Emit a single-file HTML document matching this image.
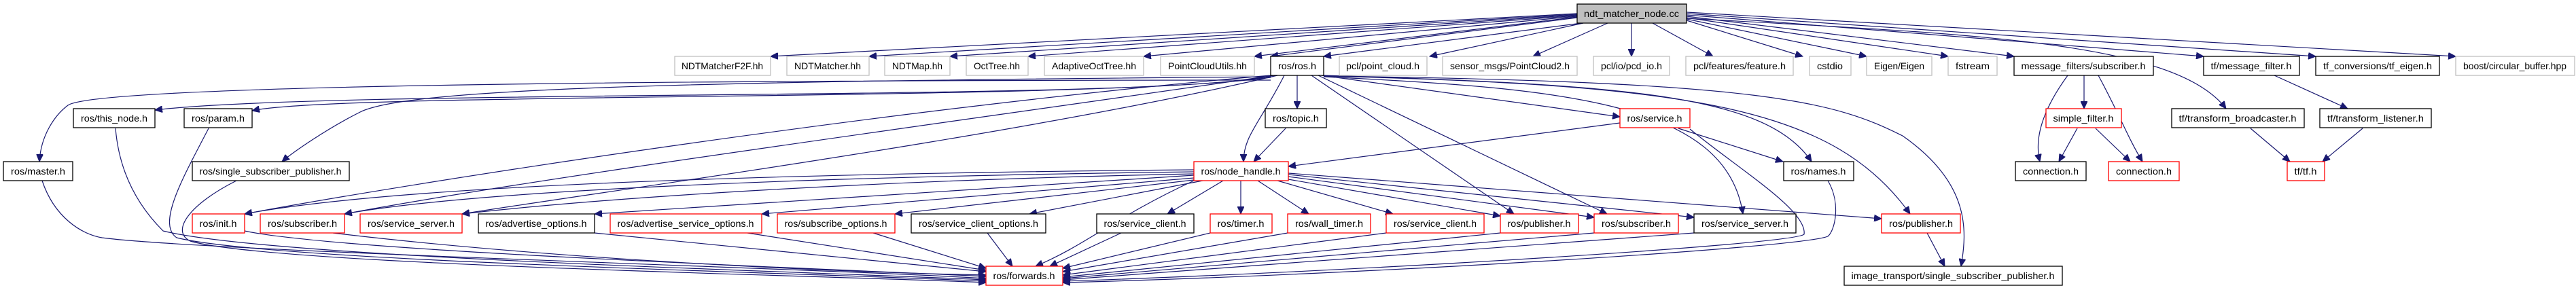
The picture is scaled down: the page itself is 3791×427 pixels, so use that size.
<!DOCTYPE html>
<html><head><meta charset="utf-8"><style>
html,body{margin:0;padding:0;background:#fff;width:3791px;height:427px;overflow:hidden}
text{font-family:"Liberation Sans",sans-serif;font-size:14px;fill:#000}
</style></head><body>
<svg xmlns="http://www.w3.org/2000/svg" width="3791" height="427" viewBox="0 0 3791 427">
<defs>
<marker id="a" markerUnits="userSpaceOnUse" markerWidth="12" markerHeight="10" refX="11" refY="5" orient="auto">
<path d="M0,0 L11,5 L0,10 z" fill="#191970" stroke="#191970"/>
</marker>
</defs>
<g fill="none" stroke="#191970" stroke-width="1.2" marker-end="url(#a)">
<!-- top node to row1 -->
<path d="M2321,20 L1134,83"/>
<path d="M2321,21 L1279,83"/>
<path d="M2321,22 L1398,83"/>
<path d="M2321,23 L1513,83"/>
<path d="M2321,24 L1683,83"/>
<path d="M2321,25 L1846,83"/>
<path d="M2321,26 L1870,83"/>
<path d="M2328,34 L1948,83"/>
<path d="M2330,34 L2104,83"/>
<path d="M2366,34 L2256,83"/>
<path d="M2401,34 L2401,83"/>
<path d="M2432,34 L2521,83"/>
<path d="M2482,30 L2653,83"/>
<path d="M2482,28 L2747,83"/>
<path d="M2482,26 L2867,83"/>
<path d="M2482,24 L2964,83"/>
<path d="M2482,22 L3243,83"/>
<path d="M2482,20 L3408,83"/>
<path d="M2482,18 L3614,83"/>
<path d="M2482,27 C2900,50 3200,60 3276,160"/>
<!-- ros.h -->
<path d="M1870,118 C1300,118 150,120 100,155 C80,170 60,200 58,238"/>
<path d="M1870,112 C1700,150 500,130 228,162"/>
<path d="M1870,114 C1600,150 500,135 371,163"/>
<path d="M1870,113 C1000,120 600,130 530,165 C480,190 430,225 415,238"/>
<path d="M1870,111 C1300,160 600,270 360,315"/>
<path d="M1875,111 C1400,180 800,260 507,315"/>
<path d="M1880,111 C1500,200 900,280 680,315"/>
<path d="M1909,111 L1909,160"/>
<path d="M1890,111 C1855,180 1830,200 1830,238"/>
<path d="M1945,111 L2384,172"/>
<path d="M1930,111 L2228,315"/>
<path d="M1940,111 L2365,315"/>
<path d="M1948,113 C2300,130 2540,150 2565,315"/>
<path d="M1948,111 C2400,125 2600,140 2666,238"/>
<path d="M1948,112 C2500,125 2700,160 2811,315"/>
<path d="M1948,112 C2600,120 2700,150 2800,200 C2900,270 2895,340 2886,392"/>
<!-- node_handle -->
<path d="M1757,250 C1200,255 600,270 360,315"/>
<path d="M1757,253 C1200,260 700,280 507,315"/>
<path d="M1757,256 C1300,265 900,290 680,315"/>
<path d="M1757,258 L875,315"/>
<path d="M1757,262 L1121,315"/>
<path d="M1757,265 L1317,315"/>
<path d="M1770,266 L1515,315"/>
<path d="M1800,266 L1718,315"/>
<path d="M1826,266 L1826,315"/>
<path d="M1851,266 L1926,315"/>
<path d="M1880,266 L2050,315"/>
<path d="M1896,264 L2208,318"/>
<path d="M1896,260 L2346,320"/>
<path d="M1896,257 L2493,320"/>
<path d="M1896,255 L2769,322"/>
<path d="M1757,266 C1640,320 1600,360 1524,392"/>
<!-- to forwards -->
<path d="M62,266 C80,320 120,345 150,350 C300,370 1200,395 1451,410"/>
<path d="M170,189 C175,250 200,300 240,340 C400,380 1200,400 1451,412"/>
<path d="M307,189 C270,260 230,330 260,350 C400,385 1200,402 1451,414"/>
<path d="M348,266 C280,300 250,340 280,355 C400,390 1200,405 1451,416"/>
<path d="M360,340 C500,370 1200,395 1451,407"/>
<path d="M490,343 C800,380 1200,400 1451,405"/>
<path d="M875,343 L1451,400"/>
<path d="M1100,343 L1451,398"/>
<path d="M1285,343 L1451,395"/>
<path d="M1453,343 L1490,392"/>
<path d="M1650,343 L1545,392"/>
<path d="M1781,343 L1564,395"/>
<path d="M1895,343 L1564,400"/>
<path d="M2040,343 L1564,405"/>
<path d="M2208,343 L1564,408"/>
<path d="M2346,343 L1564,410"/>
<path d="M2493,343 L1564,412"/>
<path d="M2487,190 C2560,250 2660,310 2655,345 C2640,360 2000,400 1564,414"/>
<path d="M2690,266 C2710,300 2700,340 2690,348 C2650,365 2000,405 1564,416"/>
<!-- misc -->
<path d="M2384,181 L1896,245"/>
<path d="M2470,189 L2624,238"/>
<path d="M1892,189 L1845,238"/>
<path d="M2836,343 L2862,392"/>
<path d="M3067,111 L3067,160"/>
<path d="M3043,111 C3000,170 2995,210 3002,238"/>
<path d="M3088,111 C3120,170 3130,200 3153,238"/>
<path d="M3057,189 L3030,238"/>
<path d="M3084,189 L3135,238"/>
<path d="M3347,111 L3455,160"/>
<path d="M3312,189 L3370,238"/>
<path d="M3477,189 L3418,238"/>
</g>
<g stroke-width="1.3" fill="#fff">
<!-- top -->
<rect x="2321" y="6" width="161" height="28" fill="#bfbfbf" stroke="#000"/>
<!-- gray row1 -->
<g stroke="#bfbfbf">
<rect x="993" y="83" width="141" height="28"/>
<rect x="1158" y="83" width="121" height="28"/>
<rect x="1302" y="83" width="96" height="28"/>
<rect x="1422" y="83" width="91" height="28"/>
<rect x="1537" y="83" width="146" height="28"/>
<rect x="1708" y="83" width="138" height="28"/>
<rect x="1971" y="83" width="129" height="28"/>
<rect x="2123" y="83" width="198" height="28"/>
<rect x="2345" y="83" width="112" height="28"/>
<rect x="2481" y="83" width="158" height="28"/>
<rect x="2663" y="83" width="61" height="28"/>
<rect x="2747" y="83" width="96" height="28"/>
<rect x="2867" y="83" width="72" height="28"/>
<rect x="3614" y="83" width="175" height="28"/>
</g>
<g stroke="#000">
<rect x="1870" y="83" width="78" height="28"/>
<rect x="2964" y="83" width="205" height="28"/>
<rect x="3243" y="83" width="141" height="28"/>
<rect x="3408" y="83" width="182" height="28"/>
<rect x="108" y="160" width="120" height="28"/>
<rect x="271" y="160" width="100" height="28"/>
<rect x="1862" y="160" width="90" height="28"/>
<rect x="3196" y="160" width="195" height="28"/>
<rect x="3414" y="160" width="164" height="28"/>
<rect x="5" y="238" width="102" height="28"/>
<rect x="283" y="238" width="231" height="28"/>
<rect x="2625" y="238" width="103" height="28"/>
<rect x="2966" y="238" width="104" height="28"/>
<rect x="704" y="315" width="171" height="28"/>
<rect x="1341" y="315" width="198" height="28"/>
<rect x="1614" y="315" width="143" height="28"/>
<rect x="2493" y="315" width="150" height="28"/>
<rect x="2714" y="392" width="321" height="28"/>
</g>
<g stroke="#f00">
<rect x="2384" y="160" width="103" height="28"/>
<rect x="3011" y="160" width="111" height="28"/>
<rect x="1757" y="238" width="139" height="28"/>
<rect x="3103" y="238" width="104" height="28"/>
<rect x="3366" y="238" width="55" height="28"/>
<rect x="283" y="315" width="77" height="28"/>
<rect x="383" y="315" width="124" height="28"/>
<rect x="530" y="315" width="150" height="28"/>
<rect x="898" y="315" width="223" height="28"/>
<rect x="1144" y="315" width="173" height="28"/>
<rect x="1781" y="315" width="91" height="28"/>
<rect x="1895" y="315" width="122" height="28"/>
<rect x="2040" y="315" width="144" height="28"/>
<rect x="2208" y="315" width="115" height="28"/>
<rect x="2346" y="315" width="124" height="28"/>
<rect x="2769" y="315" width="116" height="28"/>
<rect x="1451" y="392" width="113" height="28"/>
</g>
</g>
<g text-anchor="middle" lengthAdjust="spacingAndGlyphs">
<text x="2401" y="25" textLength="140" lengthAdjust="spacingAndGlyphs">ndt_matcher_node.cc</text>
<text x="1063" y="102" textLength="120" lengthAdjust="spacingAndGlyphs">NDTMatcherF2F.hh</text>
<text x="1218" y="102" textLength="98" lengthAdjust="spacingAndGlyphs">NDTMatcher.hh</text>
<text x="1350" y="102" textLength="74" lengthAdjust="spacingAndGlyphs">NDTMap.hh</text>
<text x="1467" y="102" textLength="68" lengthAdjust="spacingAndGlyphs">OctTree.hh</text>
<text x="1610" y="102" textLength="124" lengthAdjust="spacingAndGlyphs">AdaptiveOctTree.hh</text>
<text x="1777" y="102" textLength="116" lengthAdjust="spacingAndGlyphs">PointCloudUtils.hh</text>
<text x="1909" y="102" textLength="56" lengthAdjust="spacingAndGlyphs">ros/ros.h</text>
<text x="2035" y="102" textLength="108" lengthAdjust="spacingAndGlyphs">pcl/point_cloud.h</text>
<text x="2222" y="102" textLength="176" lengthAdjust="spacingAndGlyphs">sensor_msgs/PointCloud2.h</text>
<text x="2401" y="102" textLength="90" lengthAdjust="spacingAndGlyphs">pcl/io/pcd_io.h</text>
<text x="2560" y="102" textLength="136" lengthAdjust="spacingAndGlyphs">pcl/features/feature.h</text>
<text x="2693" y="102" textLength="38" lengthAdjust="spacingAndGlyphs">cstdio</text>
<text x="2795" y="102" textLength="74" lengthAdjust="spacingAndGlyphs">Eigen/Eigen</text>
<text x="2903" y="102" textLength="50" lengthAdjust="spacingAndGlyphs">fstream</text>
<text x="3066" y="102" textLength="183" lengthAdjust="spacingAndGlyphs">message_filters/subscriber.h</text>
<text x="3313" y="102" textLength="119" lengthAdjust="spacingAndGlyphs">tf/message_filter.h</text>
<text x="3499" y="102" textLength="160" lengthAdjust="spacingAndGlyphs">tf_conversions/tf_eigen.h</text>
<text x="3701" y="102" textLength="152" lengthAdjust="spacingAndGlyphs">boost/circular_buffer.hpp</text>
<text x="168" y="179" textLength="98" lengthAdjust="spacingAndGlyphs">ros/this_node.h</text>
<text x="321" y="179" textLength="78" lengthAdjust="spacingAndGlyphs">ros/param.h</text>
<text x="1907" y="179" textLength="68" lengthAdjust="spacingAndGlyphs">ros/topic.h</text>
<text x="2435" y="179" textLength="81" lengthAdjust="spacingAndGlyphs">ros/service.h</text>
<text x="3066" y="179" textLength="89" lengthAdjust="spacingAndGlyphs">simple_filter.h</text>
<text x="3293" y="179" textLength="173" lengthAdjust="spacingAndGlyphs">tf/transform_broadcaster.h</text>
<text x="3496" y="179" textLength="142" lengthAdjust="spacingAndGlyphs">tf/transform_listener.h</text>
<text x="56" y="257" textLength="80" lengthAdjust="spacingAndGlyphs">ros/master.h</text>
<text x="398" y="257" textLength="209" lengthAdjust="spacingAndGlyphs">ros/single_subscriber_publisher.h</text>
<text x="1826" y="257" textLength="117" lengthAdjust="spacingAndGlyphs">ros/node_handle.h</text>
<text x="2676" y="257" textLength="81" lengthAdjust="spacingAndGlyphs">ros/names.h</text>
<text x="3018" y="257" textLength="82" lengthAdjust="spacingAndGlyphs">connection.h</text>
<text x="3155" y="257" textLength="82" lengthAdjust="spacingAndGlyphs">connection.h</text>
<text x="3393" y="257" textLength="33" lengthAdjust="spacingAndGlyphs">tf/tf.h</text>
<text x="321" y="334" textLength="55" lengthAdjust="spacingAndGlyphs">ros/init.h</text>
<text x="445" y="334" textLength="102" lengthAdjust="spacingAndGlyphs">ros/subscriber.h</text>
<text x="605" y="334" textLength="128" lengthAdjust="spacingAndGlyphs">ros/service_server.h</text>
<text x="789" y="334" textLength="149" lengthAdjust="spacingAndGlyphs">ros/advertise_options.h</text>
<text x="1009" y="334" textLength="201" lengthAdjust="spacingAndGlyphs">ros/advertise_service_options.h</text>
<text x="1230" y="334" textLength="151" lengthAdjust="spacingAndGlyphs">ros/subscribe_options.h</text>
<text x="1440" y="334" textLength="176" lengthAdjust="spacingAndGlyphs">ros/service_client_options.h</text>
<text x="1685" y="334" textLength="121" lengthAdjust="spacingAndGlyphs">ros/service_client.h</text>
<text x="1826" y="334" textLength="69" lengthAdjust="spacingAndGlyphs">ros/timer.h</text>
<text x="1956" y="334" textLength="100" lengthAdjust="spacingAndGlyphs">ros/wall_timer.h</text>
<text x="2112" y="334" textLength="122" lengthAdjust="spacingAndGlyphs">ros/service_client.h</text>
<text x="2265" y="334" textLength="93" lengthAdjust="spacingAndGlyphs">ros/publisher.h</text>
<text x="2408" y="334" textLength="102" lengthAdjust="spacingAndGlyphs">ros/subscriber.h</text>
<text x="2568" y="334" textLength="128" lengthAdjust="spacingAndGlyphs">ros/service_server.h</text>
<text x="2827" y="334" textLength="94" lengthAdjust="spacingAndGlyphs">ros/publisher.h</text>
<text x="1507" y="411" textLength="91" lengthAdjust="spacingAndGlyphs">ros/forwards.h</text>
<text x="2874" y="411" textLength="299" lengthAdjust="spacingAndGlyphs">image_transport/single_subscriber_publisher.h</text>
</g>
</svg>
</body></html>
